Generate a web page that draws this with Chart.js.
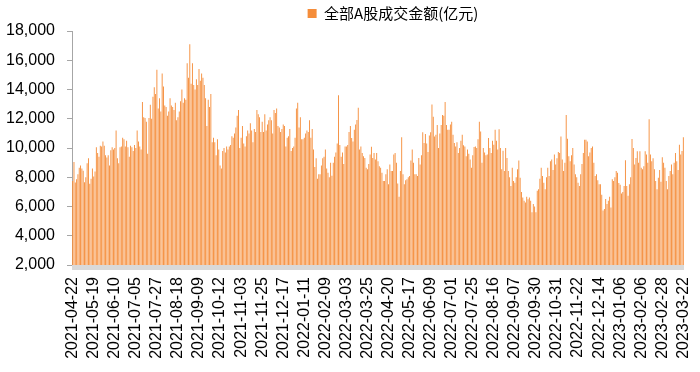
<!DOCTYPE html>
<html>
<head>
<meta charset="utf-8">
<script src="https://cdn.jsdelivr.net/npm/chart.js@4.4.1/dist/chart.umd.min.js"></script>
<style>
  html, body { margin: 0; padding: 0; background: #fff; }
  #wrap { width: 700px; height: 372px; }
</style>
</head>
<body>
<div id="wrap"><canvas id="myChart" width="700" height="372"></canvas></div>
<script>
// dates shown on the x axis, one every 16 trading days
const tickDates = ['2021-04-22', '2021-05-19', '2021-06-10', '2021-07-05', '2021-07-27', '2021-08-18',
  '2021-09-09', '2021-10-12', '2021-11-03', '2021-11-25', '2021-12-17', '2022-01-11', '2022-02-09',
  '2022-03-03', '2022-03-25', '2022-04-20', '2022-05-17', '2022-06-09', '2022-07-01', '2022-07-25',
  '2022-08-16', '2022-09-07', '2022-09-30', '2022-10-31', '2022-11-22', '2022-12-14', '2023-01-06',
  '2023-02-06', '2023-02-28', '2023-03-22'];
const labelStep = 16;

const seriesName = '全部A股成交金额(亿元)';

// daily turnover, one row per 16 trading days
const turnover = [
  7750, 9050, 7640, 7870, 8200, 8650, 8800, 8600, 8450, 7650, 8000, 8950, 9300, 7550, 7900, 8600,
  8050, 8400, 10050, 9650, 9400, 10150, 10100, 10450, 10150, 9500, 9350, 9500, 8800, 9850, 10050, 9900,
  10000, 11200, 9300, 8950, 10050, 10100, 10700, 10600, 10100, 10500, 10050, 9400, 10150, 10050, 9800, 10200,
  10000, 11200, 10450, 10100, 9900, 13150, 12100, 12050, 11800, 9600, 12050, 12950, 12000, 13500, 14150, 13700,
  15350, 12700, 13400, 12500, 15100, 14200, 12900, 12800, 12200, 12500, 13400, 12900, 12800, 12600, 13100, 11900,
  12100, 12500, 13200, 14000, 13100, 13400, 13300, 15800, 14800, 17100, 14400, 15800, 14300, 14000, 14700, 14300,
  15400, 14600, 15100, 14800, 14300, 13400, 11500, 13300, 12800, 13700, 10400, 10700, 10400, 9500, 10600, 9900,
  8800, 8600, 9800, 10000, 9700, 10100, 9900, 10100, 10200, 10800, 10700, 11000, 11400, 12200, 12600, 10000,
  10700, 11500, 10300, 10100, 10800, 11200, 11000, 11700, 11200, 10400, 11300, 11100, 12600, 12300, 12100, 11100,
  11800, 11100, 12300, 11200, 11600, 11900, 12100, 11900, 11000, 12600, 12400, 12700, 11500, 11400, 11100, 11300,
  11600, 11500, 10100, 10700, 10800, 11300, 9800, 10000, 10100, 10700, 12700, 13100, 11400, 12100, 10600, 10600,
  10700, 11000, 11200, 11100, 11900, 10700, 11300, 9900, 8700, 9300, 7900, 8200, 8200, 8800, 9300, 9400,
  9900, 8600, 8300, 8000, 9000, 8100, 9000, 9400, 9700, 10300, 13600, 10200, 9400, 9700, 8900, 10100,
  10100, 10200, 11100, 11500, 10680, 10450, 11240, 11600, 11915, 12750, 9890, 10110, 9660, 9440, 9320, 8650,
  8540, 8900, 9550, 10090, 9320, 9660, 9210, 9660, 9100, 8760, 8650, 8300, 7750, 7750, 8200, 8540,
  7520, 8870, 8420, 8420, 9550, 9660, 8990, 7570, 6670, 8420, 10740, 8200, 7520, 7790, 7860, 8000,
  8090, 9140, 9890, 9000, 8200, 8200, 8090, 9320, 8870, 9500, 11080, 10340, 10950, 10300, 9730, 10860,
  11080, 12970, 12140, 10790, 10900, 11580, 10000, 11000, 11580, 12250, 12210, 13150, 11580, 11240, 11240, 11600,
  11800, 10900, 10340, 10110, 10400, 9660, 10000, 10500, 10900, 10180, 10110, 9440, 9890, 9600, 9210, 8650,
  9500, 10070, 10110, 10000, 10600, 11800, 11130, 8990, 10000, 9700, 9500, 9550, 10680, 10000, 9660, 10500,
  10230, 11240, 10500, 9890, 11280, 10000, 8540, 9820, 8420, 10000, 9320, 8420, 8000, 7410, 8650, 7750,
  7630, 8000, 8540, 9140, 7970, 7000, 6620, 6400, 6280, 6670, 6500, 6620, 6400, 5610, 6170, 6000,
  5610, 7070, 7180, 7900, 8650, 8090, 7630, 7180, 8000, 8650, 8090, 9100, 9210, 8500, 9550, 8870,
  9300, 9730, 9660, 10790, 9210, 8420, 9000, 12250, 10630, 9440, 9100, 9500, 10000, 8870, 8200, 8000,
  7630, 7410, 8200, 8900, 9660, 10560, 10560, 10450, 9440, 9700, 10000, 10110, 9000, 8090, 8200, 7800,
  7520, 7520, 6800, 5720, 5830, 6510, 6170, 6400, 6670, 5940, 7860, 7750, 8000, 8420, 8310, 7600,
  7480, 6890, 7000, 7400, 9170, 7410, 6730, 7520, 8000, 10610, 10000, 8870, 9320, 9780, 9000, 9780,
  8650, 8540, 8760, 9780, 9550, 9000, 11960, 9550, 9100, 9300, 8540, 7750, 7180, 7970, 8500, 7700,
  9370, 9000, 8650, 7750, 7180, 8090, 8420, 8870, 8200, 9000, 9660, 9100, 8500, 10230, 9550, 9800,
  10740
];

const yMin = 2000, yMax = 18000, yStep = 2000;

// one category per trading day, named only where the axis shows a date
const labels = turnover.map((v, i) => i % labelStep === 0 ? tickDates[i / labelStep] : '');

// light grey band under the plot, like the original x axis line
const axisBand = {
  id: 'axisBand',
  beforeDatasetsDraw(chart) {
    const { ctx, chartArea: { left, right, bottom } } = chart;
    ctx.save();
    ctx.fillStyle = '#d9d9d9';
    ctx.fillRect(left, bottom, right - left, 5);
    ctx.restore();
  }
};

// move the legend right so it sits where the original one is
const legendShift = {
  id: 'legendShift',
  afterLayout(chart) {
    chart.legend.left += 15;
    chart.legend.right += 15;
  }
};

const ctx = document.getElementById('myChart');

new Chart(ctx, {
  type: 'bar',
  data: {
    labels: labels,
    datasets: [{
      label: seriesName,
      data: turnover,
      backgroundColor: '#F58D3A',
      borderWidth: 0,
      barPercentage: 0.7,
      categoryPercentage: 1
    }]
  },
  options: {
    responsive: false,
    animation: false,
    layout: {
      padding: { top: -4, right: 16, bottom: 0, left: 0 }
    },
    plugins: {
      legend: {
        position: 'top',
        fullSize: false,
        labels: {
          boxWidth: 9,
          boxHeight: 9,
          padding: 10,
          color: '#000',
          font: { family: '"Noto Sans CJK SC", sans-serif', size: 15 }
        }
      },
      tooltip: { enabled: false }
    },
    scales: {
      x: {
        grid: { display: false, drawTicks: false },
        border: { display: false },
        ticks: {
          autoSkip: false,
          maxRotation: 90,
          minRotation: 90,
          padding: 12,
          color: '#000',
          font: { family: '"Liberation Sans", sans-serif', size: 16 },
          callback: function (value, index) {
            const l = this.getLabelForValue(value);
            return l === '' ? null : l;
          }
        },
        afterFit: s => {
          s.height = 107;
          s.paddingLeft = 0;
          s.paddingRight = 0;
        }
      },
      y: {
        min: yMin,
        max: yMax,
        grid: {
          drawOnChartArea: false,
          drawTicks: true,
          tickLength: 5,
          color: '#a6a6a6'
        },
        border: { color: '#a6a6a6', width: 1 },
        ticks: {
          stepSize: yStep,
          padding: 12,
          color: '#000',
          font: { family: '"Liberation Sans", sans-serif', size: 16 },
          callback: v => v.toLocaleString('en-US')
        },
        afterFit: s => { s.width = 72; }
      }
    }
  },
  plugins: [axisBand, legendShift]
});
</script>
</body>
</html>
